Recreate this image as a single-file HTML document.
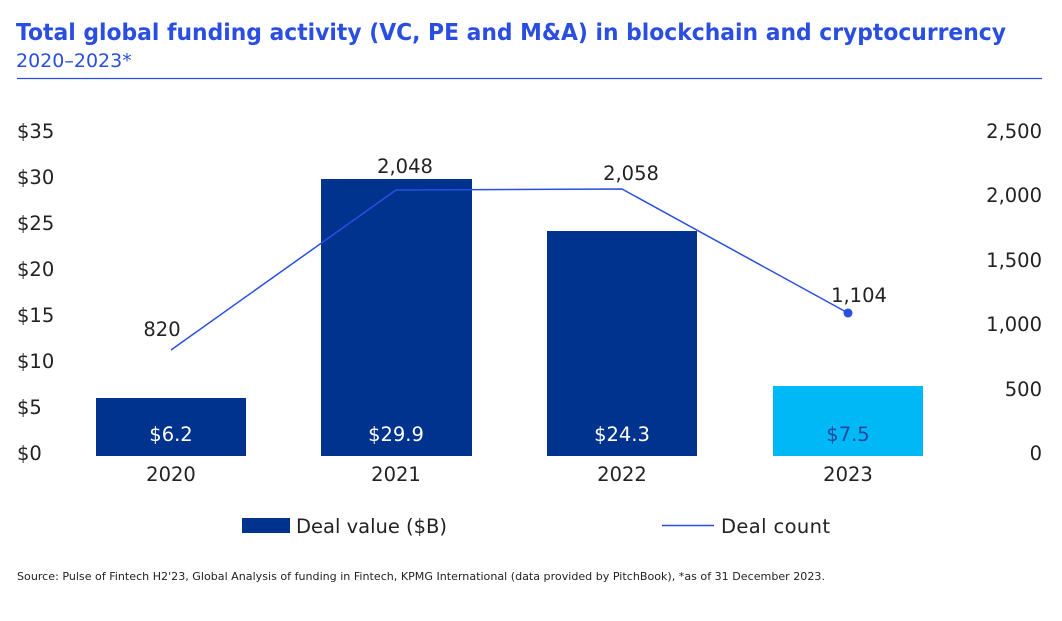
<!DOCTYPE html>
<html><head><meta charset="utf-8"><style>
body{margin:0;background:#fff;}
svg{display:block;font-family:"DejaVu Sans","Liberation Sans",sans-serif;}
</style></head><body>
<svg width="1062" height="621" viewBox="0 0 1062 621" xmlns="http://www.w3.org/2000/svg">
<text x="16" y="40" font-size="23.5" font-weight="bold" fill="#2a4fe0" textLength="990" lengthAdjust="spacingAndGlyphs">Total global funding activity (VC, PE and M&amp;A) in blockchain and cryptocurrency</text>
<text x="16" y="67" font-size="19" fill="#2a4fe0">2020–2023*</text>
<line x1="17" y1="78.5" x2="1042" y2="78.5" stroke="#2a4fe0" stroke-width="1.3"/>
<g font-size="19.5" fill="#222" text-anchor="start">
<text x="17" y="138">$35</text><text x="17" y="184">$30</text><text x="17" y="230">$25</text><text x="17" y="276">$20</text><text x="17" y="322">$15</text><text x="17" y="368">$10</text><text x="17" y="414">$5</text><text x="17" y="460">$0</text>
</g>
<g font-size="19.5" fill="#222" text-anchor="end">
<text x="1042" y="138">2,500</text><text x="1042" y="202">2,000</text><text x="1042" y="267">1,500</text><text x="1042" y="331">1,000</text><text x="1042" y="396">500</text><text x="1042" y="460">0</text>
</g>
<rect x="96" y="398" width="150" height="58" fill="#00338d"/>
<rect x="321" y="179" width="151" height="277" fill="#00338d"/>
<rect x="547" y="231" width="150" height="225" fill="#00338d"/>
<rect x="773" y="386" width="150" height="70" fill="#00b8f5"/>
<g font-size="19.5" text-anchor="middle" fill="#fff">
<text x="171" y="441">$6.2</text><text x="396" y="441">$29.9</text><text x="622" y="441">$24.3</text>
<text x="848" y="441" fill="#1e49a0">$7.5</text>
</g>
<g font-size="19.5" text-anchor="middle" fill="#222">
<text x="171" y="481">2020</text><text x="396" y="481">2021</text><text x="622" y="481">2022</text><text x="848" y="481">2023</text>
</g>
<polyline points="171,350 396,190 622,189 848,313" fill="none" stroke="#2a4fe0" stroke-width="1.5"/>
<circle cx="848" cy="313" r="4.5" fill="#2a4fe0"/>
<g font-size="19.5" text-anchor="middle" fill="#222">
<text x="162" y="336">820</text><text x="405" y="173">2,048</text><text x="631" y="180">2,058</text><text x="859" y="302">1,104</text>
</g>
<rect x="242" y="518" width="48" height="15" fill="#00338d"/>
<text x="296" y="533" font-size="19.5" fill="#222">Deal value ($B)</text>
<line x1="662" y1="525.5" x2="714" y2="525.5" stroke="#2a4fe0" stroke-width="1.5"/>
<text x="721" y="533" font-size="19.5" fill="#222" textLength="109">Deal count</text>
<text x="17" y="580" font-size="10.5" fill="#222" textLength="808" lengthAdjust="spacingAndGlyphs">Source: Pulse of Fintech H2'23, Global Analysis of funding in Fintech, KPMG International (data provided by PitchBook), *as of 31 December 2023.</text>
</svg>
</body></html>
